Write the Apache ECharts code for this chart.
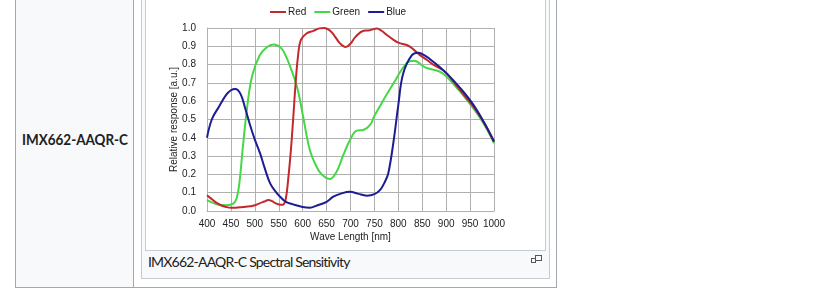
<!DOCTYPE html>
<html>
<head>
<meta charset="utf-8">
<script src="https://cdn.jsdelivr.net/npm/echarts@6/dist/echarts.min.js"></script>
<style>
  html, body { margin: 0; padding: 0; background: #ffffff; width: 840px; height: 307px; overflow: hidden; }
  .abs { position: absolute; box-sizing: border-box; }
  #table { left: 15px; top: -5px; width: 542px; height: 293px; border: 1px solid #a2a9b1; background: #ffffff; }
  #leftcell { left: 16px; top: -5px; width: 118px; height: 292px; background: #f8f9fa; border-right: 1px solid #a2a9b1; }
  #rowlabel { left: 22px; top: 130px; font-family: "Lato", "Noto Sans", sans-serif; font-weight: bold; font-size: 15px; color: #202122; white-space: nowrap; transform-origin: 0 50%; }
  #thumb { left: 141px; top: -5px; width: 409px; height: 284px; border: 1px solid #c8ccd1; background: #f8f9fa; }
  #imgbox { left: 145px; top: -5px; width: 401px; height: 256px; border: 1px solid #c8ccd1; background: #ffffff; }
  #chart { left: 146px; top: 0px; width: 399px; height: 250px; }
  #caption { left: 148px; top: 253px; font-family: "Lato", "Noto Sans", sans-serif; font-size: 14px; color: #202122; white-space: nowrap; }
  .ic { position: absolute; box-sizing: border-box; border: 1px solid #555; background: #f8f9fa; }
</style>
</head>
<body>
<div id="table" class="abs"></div>
<div id="leftcell" class="abs"></div>
<div id="rowlabel" class="abs">IMX662-AAQR-C</div>
<div id="thumb" class="abs"></div>
<div id="imgbox" class="abs"></div>
<div id="chart" class="abs"></div>
<div id="caption" class="abs">IMX662-AAQR-C Spectral Sensitivity</div>
<div class="ic" style="left:535px;top:255px;width:7px;height:6px;"></div>
<div class="ic" style="left:531px;top:258px;width:5px;height:5px;"></div>
<script>
// ---- data ----
const seriesNames = ["Red", "Green", "Blue"];

const redNm  = [400, 410, 420, 430, 440, 450, 460, 475, 490, 500, 510, 520, 528, 535, 545, 555, 560, 565, 570, 575, 580, 585, 590, 596, 608, 622, 635, 645, 655, 665, 678, 690, 700, 710, 727, 740, 755, 765, 776, 790, 800, 821, 835, 845, 860, 873, 890, 901, 920, 940, 957, 980, 1000];
const redVal = [0.086, 0.065, 0.044, 0.030, 0.022, 0.018, 0.018, 0.022, 0.026, 0.031, 0.042, 0.052, 0.060, 0.055, 0.040, 0.034, 0.036, 0.070, 0.180, 0.320, 0.497, 0.690, 0.840, 0.934, 0.970, 0.984, 0.998, 1.000, 0.990, 0.963, 0.916, 0.896, 0.915, 0.950, 0.985, 0.988, 0.997, 0.985, 0.962, 0.935, 0.920, 0.903, 0.875, 0.852, 0.825, 0.800, 0.775, 0.752, 0.690, 0.625, 0.570, 0.480, 0.380];

const greenNm  = [400, 410, 420, 440, 455, 462, 468, 475, 485, 495, 510, 525, 539, 555, 567, 580, 590, 601, 615, 629, 640, 657, 671, 685, 699, 713, 727, 741, 750, 762, 769, 790, 817, 833, 856, 887, 901, 930, 957, 980, 1000];
const greenVal = [0.060, 0.047, 0.037, 0.031, 0.040, 0.070, 0.160, 0.350, 0.590, 0.744, 0.850, 0.895, 0.910, 0.890, 0.834, 0.745, 0.660, 0.515, 0.333, 0.242, 0.200, 0.175, 0.215, 0.306, 0.388, 0.439, 0.443, 0.470, 0.520, 0.575, 0.607, 0.698, 0.807, 0.821, 0.785, 0.761, 0.734, 0.650, 0.560, 0.470, 0.370];

const blueNm  = [400, 410, 425, 440, 450, 459, 470, 480, 490, 500, 511, 520, 532, 545, 553, 565, 580, 600, 615, 630, 650, 664, 680, 699, 715, 734, 750, 762, 772, 779, 790, 800, 810, 828, 842, 855, 873, 901, 930, 957, 980, 1000];
const blueVal = [0.400, 0.500, 0.570, 0.635, 0.660, 0.667, 0.640, 0.560, 0.470, 0.390, 0.315, 0.240, 0.151, 0.100, 0.078, 0.050, 0.036, 0.022, 0.018, 0.030, 0.050, 0.078, 0.095, 0.105, 0.095, 0.084, 0.092, 0.115, 0.160, 0.206, 0.380, 0.580, 0.750, 0.850, 0.865, 0.850, 0.816, 0.752, 0.670, 0.580, 0.480, 0.380];

const seriesColors = ["#c3282c", "#45d845", "#1c1c94"];
const xAxisName = "Wave Length [nm]";
const yAxisName = "Relative response [a.u.]";

// ---- chart ----
function pairs(xs, ys) { return xs.map((x, i) => [x, ys[i]]); }
const lists = [[redNm, redVal], [greenNm, greenVal], [blueNm, blueVal]];
const font = "'Liberation Sans', Arial, sans-serif";
const gridColor = "#b0b0b0";

const chart = echarts.init(document.getElementById('chart'), null, { renderer: 'canvas' });
chart.setOption({
  animation: false,
  backgroundColor: 'transparent',
  legend: {
    data: seriesNames,
    left: 119, top: 2,
    icon: 'rect', itemWidth: 16, itemHeight: 2, itemGap: 8,
    textStyle: { fontSize: 10, color: '#222', fontFamily: font, padding: [0, 0, 0, -3] }
  },
  grid: { left: 61, right: 51, top: 28, bottom: 39 },
  xAxis: {
    type: 'value', min: 400, max: 1000, interval: 50,
    name: xAxisName, nameLocation: 'middle', nameGap: 21, nameMoveOverlap: false,
    nameTextStyle: { fontSize: 10, color: '#222', fontFamily: font },
    axisLine: { lineStyle: { color: gridColor } },
    axisTick: { show: false },
    axisLabel: { fontSize: 10, color: '#222', fontFamily: font, margin: 8, formatter: v => String(v) },
    splitLine: { show: true, lineStyle: { color: gridColor, width: 1 } }
  },
  yAxis: {
    type: 'value', min: 0, max: 1, interval: 0.1,
    name: yAxisName, nameLocation: 'middle', nameGap: 28, nameRotate: 90, nameMoveOverlap: false,
    nameTextStyle: { fontSize: 10, color: '#222', fontFamily: font },
    axisLine: { show: true, lineStyle: { color: gridColor } },
    axisTick: { show: false },
    axisLabel: { fontSize: 10, color: '#222', fontFamily: font, margin: 11, formatter: v => v.toFixed(1) },
    splitLine: { show: true, lineStyle: { color: gridColor, width: 1 } }
  },
  series: seriesNames.map((n, i) => ({
    name: n, type: 'line', smooth: 0.4, symbol: 'none',
    data: pairs(lists[i][0], lists[i][1]),
    lineStyle: { color: seriesColors[i], width: 2 },
    itemStyle: { color: seriesColors[i] },
    z: i === 0 ? 3 : (i === 1 ? 2 : 4)
  }))
});

// fit caption / row label widths to the reference
function fitSpacing(id, target) {
  const el = document.getElementById(id);
  const w = el.getBoundingClientRect().width;
  const n = el.textContent.length;
  el.style.letterSpacing = ((target - w) / n).toFixed(3) + 'px';
}
function fitScale(id, target) {
  const el = document.getElementById(id);
  const w = el.getBoundingClientRect().width;
  el.style.transform = 'scaleX(' + (target / w).toFixed(4) + ')';
}
fitSpacing('caption', 202);
fitScale('rowlabel', 106);
</script>
</body>
</html>
